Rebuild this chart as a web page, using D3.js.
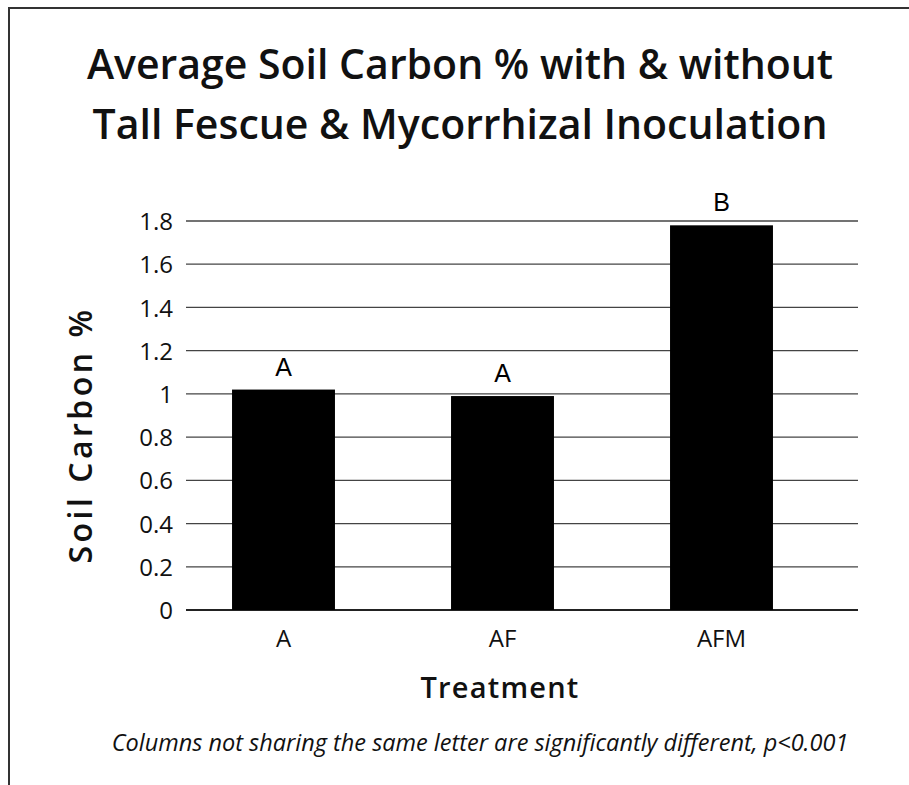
<html>
  <head>
    <script src="https://cdn.jsdelivr.net/npm/d3@7/dist/d3.min.js"></script>
    <style>
      body { margin: 0; background: #fff; }
      svg { display: block; }
    </style>
  </head>
  <body>
    <div id="container"></div>
    <script>
      // data
      const treatments = ["A", "AF", "AFM"];
      const carbon = [1.02, 0.99, 1.78];
      const letters = ["A", "A", "B"];
      const yTicks = [0, 0.2, 0.4, 0.6, 0.8, 1, 1.2, 1.4, 1.6, 1.8];

      const titleLines = [
        "Average Soil Carbon % with & without",
        "Tall Fescue & Mycorrhizal Inoculation",
      ];
      const yTitle = "Soil Carbon %";
      const xTitle = "Treatment";
      const note =
        "Columns not sharing the same letter are significantly different, p<0.001";

      const w = 909;
      const h = 785;
      const font = "'Open Sans', 'Noto Sans', sans-serif";

      const svg = d3
        .select("#container")
        .append("svg")
        .attr("width", w)
        .attr("height", h);

      // frame, runs off the right and bottom edge
      svg
        .append("rect")
        .attr("x", 9)
        .attr("y", 8)
        .attr("width", w)
        .attr("height", h)
        .attr("fill", "none")
        .attr("stroke", "#333")
        .attr("stroke-width", 2);

      const grid = { left: 186, right: 858 };
      const y = d3.scaleLinear().domain([0, 1.8]).range([610, 221]);
      const x = d3
        .scaleBand()
        .domain(treatments)
        .range([174, 831])
        .paddingInner(0.53)
        .paddingOuter(0.265);

      // gridlines
      svg
        .append("g")
        .selectAll("line")
        .data(yTicks)
        .enter()
        .append("line")
        .attr("x1", grid.left)
        .attr("x2", grid.right)
        .attr("y1", (d) => y(d))
        .attr("y2", (d) => y(d))
        .attr("stroke", (d) => (d == 0 ? "#222" : "#444"))
        .attr("stroke-width", (d) => (d == 0 ? 2 : 1.3));

      // y axis labels
      const yAxis = d3
        .axisLeft(y)
        .tickValues(yTicks)
        .tickSize(0)
        .tickPadding(0)
        .tickFormat(d3.format("~g"));
      const ya = svg.append("g").attr("transform", "translate(173,0)").call(yAxis);
      ya.select(".domain").remove();
      ya.selectAll("text")
        .attr("font-family", font)
        .attr("font-size", 24)
        .attr("fill", "#111")
        .attr("dy", "0.36em");

      // bars
      svg
        .append("g")
        .selectAll("rect")
        .data(carbon)
        .enter()
        .append("rect")
        .attr("x", (d, i) => x(treatments[i]))
        .attr("y", (d) => y(d))
        .attr("width", x.bandwidth())
        .attr("height", (d) => y(0) - y(d))
        .attr("fill", "#000");

      // significance letters
      svg
        .append("g")
        .selectAll("text")
        .data(carbon)
        .enter()
        .append("text")
        .attr("x", (d, i) => x(treatments[i]) + x.bandwidth() / 2)
        .attr("y", (d) => y(d) - 14)
        .attr("text-anchor", "middle")
        .attr("font-family", "'Liberation Sans', Arial, sans-serif")
        .attr("font-size", 25)
        .text((d, i) => letters[i]);

      // x axis labels
      const xAxis = d3.axisBottom(x).tickSize(0).tickPadding(0);
      const xa = svg.append("g").attr("transform", "translate(0,647)").call(xAxis);
      xa.select(".domain").remove();
      xa.selectAll("text")
        .attr("font-family", font)
        .attr("font-size", 24)
        .attr("fill", "#111")
        .attr("dy", 0);

      // title
      svg
        .append("g")
        .selectAll("text")
        .data(titleLines)
        .enter()
        .append("text")
        .attr("x", 460)
        .attr("y", (d, i) => 79 + i * 60)
        .attr("text-anchor", "middle")
        .attr("font-family", font)
        .attr("font-weight", 600)
        .attr("font-size", 41)
        .attr("fill", "#111")
        .text((d) => d);

      // axis titles
      svg
        .append("text")
        .attr("transform", "translate(92,435) rotate(-90)")
        .attr("text-anchor", "middle")
        .attr("font-family", font)
        .attr("font-weight", 600)
        .attr("font-size", 32)
        .attr("letter-spacing", 3.5)
        .attr("fill", "#111")
        .text(yTitle);

      svg
        .append("text")
        .attr("x", 500)
        .attr("y", 698)
        .attr("text-anchor", "middle")
        .attr("font-family", font)
        .attr("font-weight", 600)
        .attr("font-size", 29)
        .attr("letter-spacing", 1.2)
        .attr("fill", "#111")
        .text(xTitle);

      // footnote
      svg
        .append("text")
        .attr("x", 480)
        .attr("y", 751)
        .attr("text-anchor", "middle")
        .attr("font-family", font)
        .attr("font-style", "italic")
        .attr("font-size", 23.5)
        .attr("fill", "#111")
        .text(note);
    </script>
  </body>
</html>
